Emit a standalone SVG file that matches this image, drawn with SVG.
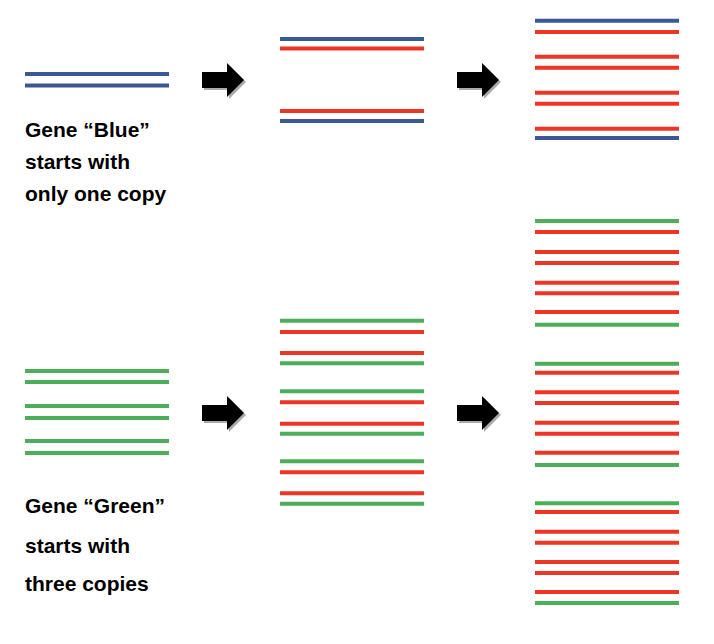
<svg xmlns="http://www.w3.org/2000/svg" width="714" height="644" viewBox="0 0 714 644">
<defs><style>
.b{stroke:#3a5896;stroke-width:4}.r{stroke:#ee3425;stroke-width:4}.g{stroke:#4cad5a;stroke-width:4}
.t{font-family:"Liberation Sans",Arial,sans-serif;font-weight:bold;font-size:21px;fill:#000}
</style>
<g id="arrow"><polygon points="4,11 29,11 29,2 46,19 29,36 29,27 4,27" fill="#aaa"/><polygon points="2,9 27,9 27,0 44,17 27,34 27,25 2,25" fill="#000"/></g>
</defs>
<rect width="714" height="644" fill="#fff"/>
<g id="blue-start"><line class="b" x1="25" x2="169" y1="74" y2="74"/><line class="b" x1="25" x2="169" y1="85.5" y2="85.5"/></g>
<g id="blue-text"><text class="t" x="25" y="137">Gene “Blue”</text><text class="t" x="25" y="169">starts with</text><text class="t" x="25" y="201">only one copy</text></g>
<g id="blue-mid">
<line class="b" x1="280" x2="424" y1="39" y2="39"/><line class="r" x1="280" x2="424" y1="48.5" y2="48.5"/>
<line class="r" x1="280" x2="424" y1="111" y2="111"/><line class="b" x1="280" x2="424" y1="121" y2="121"/></g>
<g id="blue-end">
<line class="b" x1="535" x2="679" y1="20.7" y2="20.7"/><line class="r" x1="535" x2="679" y1="32" y2="32"/>
<line class="r" x1="535" x2="679" y1="56.7" y2="56.7"/><line class="r" x1="535" x2="679" y1="67.7" y2="67.7"/>
<line class="r" x1="535" x2="679" y1="92.7" y2="92.7"/><line class="r" x1="535" x2="679" y1="103.7" y2="103.7"/>
<line class="r" x1="535" x2="679" y1="128.7" y2="128.7"/><line class="b" x1="535" x2="679" y1="138" y2="138"/></g>
<g id="green-start">
<line class="g" x1="25" x2="169" y1="371" y2="371"/><line class="g" x1="25" x2="169" y1="382" y2="382"/>
<line class="g" x1="25" x2="169" y1="406" y2="406"/><line class="g" x1="25" x2="169" y1="418" y2="418"/>
<line class="g" x1="25" x2="169" y1="441" y2="441"/><line class="g" x1="25" x2="169" y1="453" y2="453"/></g>
<g id="green-text"><text class="t" x="25" y="513">Gene “Green”</text><text class="t" x="25" y="553">starts with</text><text class="t" x="25" y="591">three copies</text></g>
<g id="green-mid">
<line class="g" x1="280" x2="424" y1="320.7" y2="320.7"/><line class="r" x1="280" x2="424" y1="332" y2="332"/>
<line class="r" x1="280" x2="424" y1="353" y2="353"/><line class="g" x1="280" x2="424" y1="363.3" y2="363.3"/>
<line class="g" x1="280" x2="424" y1="391.3" y2="391.3"/><line class="r" x1="280" x2="424" y1="402.3" y2="402.3"/>
<line class="r" x1="280" x2="424" y1="423.7" y2="423.7"/><line class="g" x1="280" x2="424" y1="433.7" y2="433.7"/>
<line class="g" x1="280" x2="424" y1="461.3" y2="461.3"/><line class="r" x1="280" x2="424" y1="472.3" y2="472.3"/>
<line class="r" x1="280" x2="424" y1="493.3" y2="493.3"/><line class="g" x1="280" x2="424" y1="503.7" y2="503.7"/></g>
<g id="green-end">
<line class="g" x1="535" x2="679" y1="221" y2="221"/><line class="r" x1="535" x2="679" y1="232" y2="232"/>
<line class="r" x1="535" x2="679" y1="252" y2="252"/><line class="r" x1="535" x2="679" y1="263" y2="263"/>
<line class="r" x1="535" x2="679" y1="282.7" y2="282.7"/><line class="r" x1="535" x2="679" y1="293.3" y2="293.3"/>
<line class="r" x1="535" x2="679" y1="312" y2="312"/><line class="g" x1="535" x2="679" y1="324.7" y2="324.7"/>
<line class="g" x1="535" x2="679" y1="363.7" y2="363.7"/><line class="r" x1="535" x2="679" y1="372.7" y2="372.7"/>
<line class="r" x1="535" x2="679" y1="392.3" y2="392.3"/><line class="r" x1="535" x2="679" y1="403" y2="403"/>
<line class="r" x1="535" x2="679" y1="422.7" y2="422.7"/><line class="r" x1="535" x2="679" y1="433.7" y2="433.7"/>
<line class="r" x1="535" x2="679" y1="452.7" y2="452.7"/><line class="g" x1="535" x2="679" y1="465" y2="465"/>
<line class="g" x1="535" x2="679" y1="503.3" y2="503.3"/><line class="r" x1="535" x2="679" y1="512" y2="512"/>
<line class="r" x1="535" x2="679" y1="531.7" y2="531.7"/><line class="r" x1="535" x2="679" y1="542.7" y2="542.7"/>
<line class="r" x1="535" x2="679" y1="562" y2="562"/><line class="r" x1="535" x2="679" y1="573" y2="573"/>
<line class="r" x1="535" x2="679" y1="592" y2="592"/><line class="g" x1="535" x2="679" y1="603" y2="603"/></g>
<g id="connectors">
<use href="#arrow" x="200" y="63"/><use href="#arrow" x="455" y="63"/>
<use href="#arrow" x="200" y="396"/><use href="#arrow" x="455" y="396"/>
</g>
</svg>
